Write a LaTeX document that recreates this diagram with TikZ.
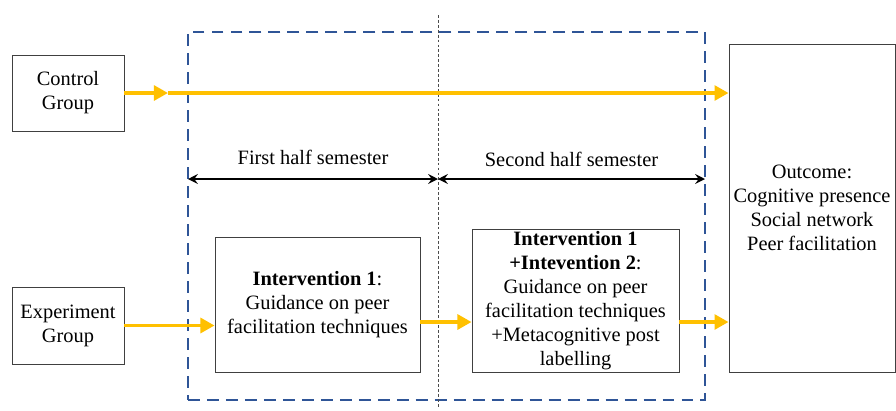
\documentclass[tikz,border=0pt]{standalone}
\usepackage{fontspec}
\setmainfont{Liberation Serif}
\usepackage{xcolor}
\usetikzlibrary{arrows.meta, calc}

\definecolor{flowgold}{HTML}{FFC000}
\definecolor{phaseblue}{HTML}{2F5597}

\tikzset{
    grpbox/.style={draw=black!75, line width=0.6pt, align=center, inner sep=0pt,
        font=\fontsize{14.5}{17}\selectfont},
    flow/.style={draw=flowgold, line width=2.8pt,
        -{Triangle[length=10pt, width=10.5pt]}},
    span/.style={line width=1.3pt, {Stealth[length=7pt, width=7pt, inset=2.5pt]}-{Stealth[length=7pt, width=7pt, inset=2.5pt]}},
}

\begin{document}
\begin{tikzpicture}[x=0.025cm, y=-0.025cm]
        \useasboundingbox (0,0) rectangle (896,410);
        % dashed study period and mid-semester split
        \node[draw=phaseblue, line width=1.8pt, dash pattern=on 8.5pt off 5pt,
              minimum width=12.925cm, minimum height=9.2cm] (phase) at (446.5,216) {};
        \coordinate (splittop) at (438,15);
        \coordinate (splitbot) at (438,408);
        \draw[black!70, line width=0.5pt, dash pattern=on 2pt off 1.5pt] (splittop) -- (splitbot);

        % groups and stages
        \node[grpbox, minimum width=2.8cm, minimum height=1.9cm] (ctrl) at (68,93) {Control\\Group};
        \node[grpbox, minimum width=2.8cm, minimum height=1.925cm] (expt) at (68,325.5) {Experiment\\Group};
        \node[grpbox, minimum width=5.125cm, minimum height=3.375cm] (int1) at (317.5,304.5)
            {\textbf{Intervention 1}:\\Guidance on peer\\facilitation techniques};
        \node[grpbox, minimum width=5.175cm, minimum height=3.575cm] (int2) at (575.5,300.5)
            {\textbf{Intervention 1}\\\textbf{+Intevention 2}:\\Guidance on peer\\facilitation techniques\\+Metacognitive post\\labelling};
        \node[grpbox, minimum width=4.15cm, minimum height=8.2cm] (outcome) at (812,208)
            {Outcome:\\Cognitive presence\\Social network\\Peer facilitation};

        % semester spans
        \coordinate (s0) at (188,179);
        \coordinate (s1) at (438,179);
        \coordinate (s2) at (705,179);
        \draw[span] (s0) -- (s1) node[midway, yshift=0.55cm, font=\fontsize{14.5}{17}\selectfont]{First half semester};
        \draw[span] (s1) -- (s2) node[midway, yshift=0.5cm, font=\fontsize{14.5}{17}\selectfont]{Second half semester};

        % flows
        \coordinate (cmid) at (168,93);
        \coordinate (row) at (0,322);
        \draw[flow] (ctrl.east |- cmid) -- (cmid);
        \draw[flow] (cmid) -- (outcome.west |- cmid);
        \draw[flow] (expt.east) -- (expt.east -| int1.west);
        \draw[flow] (int1.east |- row) -- (int2.west |- row);
        \draw[flow] (int2.east |- row) -- (outcome.west |- row);
\end{tikzpicture}
\end{document}
